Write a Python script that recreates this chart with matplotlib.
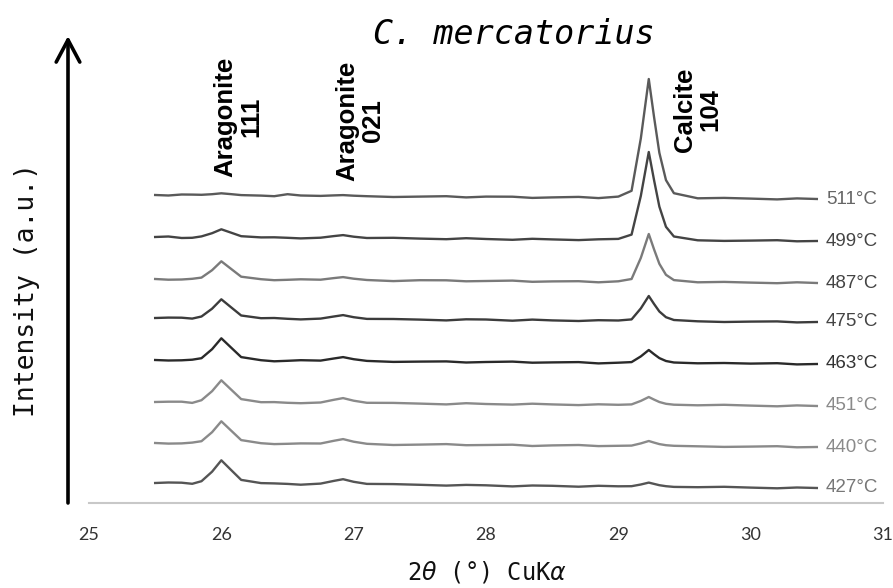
import matplotlib
matplotlib.use("Agg")
import matplotlib.pyplot as plt
from matplotlib.patches import FancyArrowPatch

two_theta = [25.5, 25.6, 25.7, 25.78, 25.85, 25.93, 26.0, 26.07, 26.15, 26.3,
             26.4, 26.5, 26.6, 26.75, 26.85, 26.92, 27.0, 27.1, 27.3, 27.5,
             27.7, 27.85, 28.0, 28.2, 28.35, 28.5, 28.7, 28.85, 29.0, 29.1,
             29.17, 29.23, 29.27, 29.31, 29.36, 29.42, 29.6, 29.8, 30.0, 30.2,
             30.35, 30.5]

temps = ["427", "440", "451", "463", "475", "487", "499", "511"]
offsets = [20, 60, 101, 143, 185, 224, 266, 308]

i427 = [0, 0.5, 0.3, -0.8, 1.8, 11.3, 22.7, 13.5, 3.1, -0.1, -0.4, -0.9, -1.7, -0.6,
        2.1, 3.8, 1.2, -0.9, -1.1, -1.8, -2.6, -1.9, -2.3, -3.4, -2.5, -2.8, -3.7, -2.8,
        -3.3, -3.2, -1.5, 0.4, -0.9, -2.2, -3.2, -3.9, -4.2, -3.8, -4.6, -5.3, -4.5, -5]
i440 = [0, -0.6, -0.4, 0.4, 1.8, 10.8, 21.7, 12.9, 2.9, -0.2, -1.1, -0.8, -0.4, -0.5,
        2.2, 3.9, 1.3, -0.8, -2.0, -1.6, -1.1, -2.2, -2.0, -1.7, -3.0, -2.4, -2.0, -3.1,
        -2.8, -2.6, -0.4, 2.0, 0.4, -1.1, -2.2, -2.8, -3.3, -3.9, -3.6, -3.2, -4.3, -4]
i451 = [0, 0.3, 0.3, -0.9, 1.8, 10.8, 21.7, 12.9, 2.9, -0.2, -0.1, -0.8, -1.2, -0.5,
        2.2, 3.9, 1.3, -0.8, -0.9, -1.6, -2.4, -1.2, -2.0, -2.6, -1.7, -2.4, -3.1, -2.3,
        -2.8, -2.4, 1.1, 5.0, 2.4, 0, -1.8, -2.7, -3.3, -2.8, -3.6, -4.3, -3.4, -4]
i463 = [0, -0.5, -0.3, 0.3, 1.8, 10.8, 21.7, 12.9, 2.9, -0.2, -1.3, -0.8, -0.2, -0.6,
        1.5, 2.9, 0.8, -0.9, -1.9, -1.6, -1.4, -2.5, -2.0, -1.6, -2.7, -2.4, -2.1, -3.4,
        -2.7, -2.1, 3.6, 10.0, 5.8, 1.9, -1.0, -2.5, -3.3, -3.0, -3.6, -3.2, -4.4, -4]
i475 = [0, 0.4, 0.3, -0.6, 1.5, 9.3, 18.7, 11.1, 2.5, -0.2, 0.0, -0.8, -1.4, -0.6,
        1.5, 2.9, 0.8, -0.9, -1.0, -1.6, -2.4, -1.3, -1.5, -2.7, -1.6, -2.4, -3.0, -2.2,
        -2.5, -1.4, 9.6, 22.0, 14.0, 6.5, 0.8, -2.0, -3.3, -4.0, -3.6, -3.4, -4.4, -4]
i487 = [0, -0.7, -0.5, 0.2, 1.4, 8.8, 17.7, 10.5, 2.3, -0.2, -1.2, -0.8, -0.3, -0.7,
        0.9, 1.9, 0.3, -1.0, -2.1, -1.2, -1.3, -2.3, -2.0, -1.6, -2.8, -2.4, -2.2, -3.3,
        -2.3, 0, 21.1, 45.0, 29.6, 15.2, 4.2, -1.1, -3.3, -2.9, -3.6, -4.2, -3.3, -4]
i499 = [0, 0.5, -1.0, -0.8, 0.6, 3.8, 7.7, 4.5, 0.8, -0.4, -0.3, -0.8, -1.4, -0.7,
        0.9, 1.9, 0.3, -1.0, -0.8, -1.6, -2.2, -1.2, -2.0, -2.8, -1.8, -2.4, -3.1, -2.3,
        -1.9, 2.4, 41.1, 85.0, 56.8, 30.4, 10.2, 0.5, -3.3, -3.9, -3.6, -3.2, -4.3, -4]
i511 = [0, -0.5, 0.5, 0.4, 0.2, 0.8, 1.7, 0.9, -0.1, -0.6, -1.2, 0.8, -0.5, -0.9,
        -0.4, -0.1, -0.7, -1.2, -2.0, -1.6, -1.2, -2.4, -1.6, -1.7, -2.9, -2.4, -1.9, -3.1,
        -1.6, 4.2, 56.6, 116.0, 77.9, 42.2, 14.9, 1.8, -3.3, -2.9, -3.6, -4.4, -3.4, -4]

traces = [i427, i440, i451, i463, i475, i487, i499, i511]
colors = ["#555555", "#8a8a8a", "#8a8a8a", "#2a2a2a", "#3c3c3c", "#7a7a7a", "#444444", "#5a5a5a"]
label_colors = ["#777777", "#8a8a8a", "#8a8a8a", "#333333", "#444444", "#444444", "#444444", "#666666"]

peak_labels = ["Aragonite\n111", "Aragonite\n021", "Calcite\n104"]
peak_pos = [(26.13, 386), (27.05, 382), (29.6, 393)]

W, H = 893, 588
fig = plt.figure(figsize=(W / 100, H / 100), dpi=100)
ax = fig.add_axes([89 / W, (H - 503) / H, (883 - 89) / W, 468 / H])

for y, off, c, lc, t in zip(traces, offsets, colors, label_colors, temps):
    ax.plot(two_theta, [off + v for v in y], color=c, lw=1.7)
    ax.text(30.57, off + y[-1], t + "°C", color=lc, fontsize=13.5,
            family="Liberation Sans", ha="left", va="center")

for lab, (px, py) in zip(peak_labels, peak_pos):
    ax.text(px, py, lab, rotation=90, ha="center", va="center", multialignment="center",
            fontsize=18.5, fontweight="bold", family="Liberation Sans", linespacing=1.12)

ax.set_xlim(25, 31)
ax.set_ylim(0, 468)
ax.set_xticks([25, 26, 27, 28, 29, 30, 31])
ax.tick_params(axis="x", length=0, pad=17, labelsize=13, labelcolor="#333333")
for lbl in ax.get_xticklabels():
    lbl.set_family("Lato")
ax.set_yticks([])
for s in ["top", "right", "left"]:
    ax.spines[s].set_visible(False)
ax.spines["bottom"].set_color("#c8c8c8")
ax.spines["bottom"].set_linewidth(1.5)
ax.patch.set_visible(False)

# intensity arrow
arrow = FancyArrowPatch((68 / W, 1 - 503 / H), (68 / W, 1 - 36 / H), transform=fig.transFigure,
                        arrowstyle="->,head_length=16,head_width=8.5", mutation_scale=1,
                        lw=2.6, color="black", shrinkA=0, shrinkB=0)
fig.add_artist(arrow)

fig.text(27 / W, 1 - 290 / H, "Intensity (a.u.)", rotation=90, ha="center", va="center",
         fontsize=19, family="DejaVu Sans Mono", color="#111111")
fig.text(514 / W, 1 - 35 / H, "C. mercatorius", ha="center", va="center",
         fontsize=24, family="DejaVu Sans Mono", style="italic", color="black")
fig.text(487 / W, 1 - 572 / H, r"2$\theta$ (°) CuK$\alpha$", ha="center", va="center",
         fontsize=17, family="DejaVu Sans Mono", color="#111111")

fig.savefig("out.png", dpi=100)
